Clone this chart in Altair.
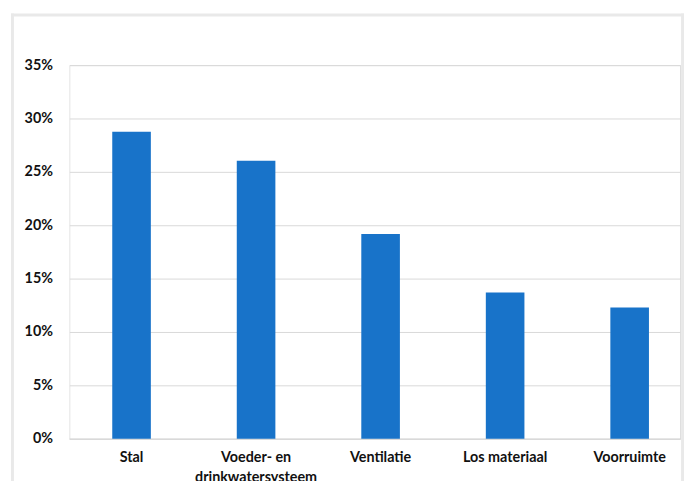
import altair as alt
import pandas as pd

categories = ["Stal", "Voeder- en\ndrinkwatersysteem", "Ventilatie", "Los materiaal", "Voorruimte"]
values = [0.2875, 0.2605, 0.1918, 0.137, 0.123]
y_ticks = [0, 0.05, 0.10, 0.15, 0.20, 0.25, 0.30, 0.35]

df = pd.DataFrame({"categorie": categories, "waarde": values})

FONT = "Lato"
FRAME = "#e9e9e9"

bars = alt.Chart(df).mark_bar(color="#1873c9").encode(
    x=alt.X(
        "categorie:N",
        sort=categories,
        title=None,
        scale=alt.Scale(paddingInner=0.69, paddingOuter=0.2975, align=0.58),
        axis=alt.Axis(
            labelAngle=0,
            labelExpr="split(datum.label, '\\n')",
            labelFont=FONT,
            labelFontWeight="bold",
            labelFontSize=14.5,
            labelColor="#111111",
            labelPadding=12,
            labelLineHeight=20,
            labelBaseline="top",
            ticks=False,
            domain=True,
            domainColor="#d9d9d9",
            domainWidth=1,
            grid=False,
        ),
    ),
    y=alt.Y(
        "waarde:Q",
        title=None,
        scale=alt.Scale(domain=[0, 0.35], nice=False),
        axis=alt.Axis(
            values=y_ticks,
            format=".0%",
            labelFont=FONT,
            labelFontWeight="bold",
            labelFontSize=14.5,
            labelColor="#111111",
            labelPadding=17,
            ticks=False,
            domain=False,
            grid=True,
            gridColor="#d9d9d9",
            gridWidth=1,
        ),
    ),
)

one = alt.Data(values=[{"a": 1}])
left = alt.Chart(one).mark_rule(color=FRAME, strokeWidth=3).encode(
    x=alt.value(-57.5), y=alt.value(-52.3), y2=alt.value(480)
)
top = alt.Chart(one).mark_rule(color=FRAME, strokeWidth=3).encode(
    x=alt.value(-59), x2=alt.value(622), y=alt.value(-50.8)
)
right = alt.Chart(one).mark_rule(color=FRAME, strokeWidth=3).encode(
    x=alt.value(620.5), y=alt.value(-52.3), y2=alt.value(480)
)
cover = alt.Chart(one).mark_rule(color="white", strokeWidth=2).encode(
    x=alt.value(-1), y=alt.value(-2), y2=alt.value(378)
)

chart = alt.layer(left, top, right, bars, cover).properties(
    width=618,
    height=378,
    autosize=alt.AutoSizeParams(type="none"),
    padding={"left": 62, "top": 55, "right": 6, "bottom": 40},
).configure_view(strokeWidth=0, stroke="transparent").configure(background="white")

chart.save("out.html", embed_options={"renderer": "svg", "actions": False})
